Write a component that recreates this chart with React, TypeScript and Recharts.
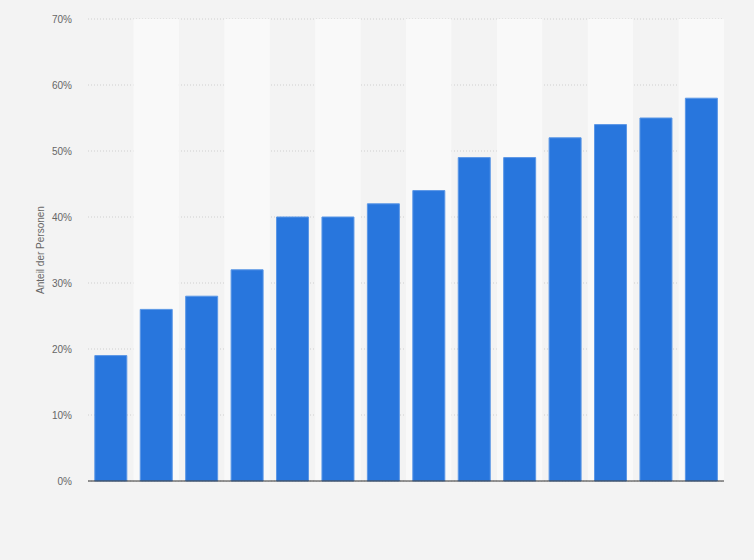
import { BarChart, Bar, XAxis, YAxis, CartesianGrid, ReferenceArea } from 'recharts'

// category labels are not shown in the picture
const CATEGORIES = ['1', '2', '3', '4', '5', '6', '7', '8', '9', '10', '11', '12', '13', '14']
const SHARE = [19, 26, 28, 32, 40, 40, 42, 44, 49, 49, 52, 54, 55, 58]
const Y_TICKS = [0, 10, 20, 30, 40, 50, 60, 70]

const data = CATEGORIES.map((name, i) => ({ name, share: SHARE[i] }))

const FONT = '"Liberation Sans", Arial, sans-serif'

export default function App() {
  return (
    <div style={{ position: 'absolute', left: 0, top: 0, width: 754, height: 560, background: '#f3f3f3' }}>
      <BarChart
        width={754}
        height={560}
        data={data}
        margin={{ top: 19, right: 30, left: 0, bottom: 78 }}
        barCategoryGap="15%"
      >
        {CATEGORIES.map((c, i) =>
          i % 2 === 1 ? (
            <ReferenceArea key={c} x1={c} x2={c} y1={0} y2={70} fill="#f9f9f9" fillOpacity={1} stroke="none" ifOverflow="visible" />
          ) : null,
        )}
        <CartesianGrid vertical={false} stroke="#cfcfcf" strokeDasharray="1 2" />
        <XAxis dataKey="name" height={1} tick={false} tickLine={false} axisLine={{ stroke: '#333', strokeWidth: 1 }} />
        <YAxis
          width={88}
          domain={[0, 70]}
          ticks={Y_TICKS}
          tickFormatter={(v: number) => `${v}%`}
          axisLine={false}
          tickLine={false}
          tickSize={0}
          tickMargin={16}
          tick={{ fontSize: 10, fill: '#666', fontFamily: FONT }}
          label={{
            value: 'Anteil der Personen',
            angle: -90,
            position: 'center',
            dx: -4,
            style: { fontSize: 10, fill: '#666', fontFamily: FONT },
          }}
        />
        <Bar dataKey="share" fill="#2876dd" stroke="#5b97e6" strokeWidth={1} isAnimationActive={false} />
      </BarChart>
    </div>
  )
}
